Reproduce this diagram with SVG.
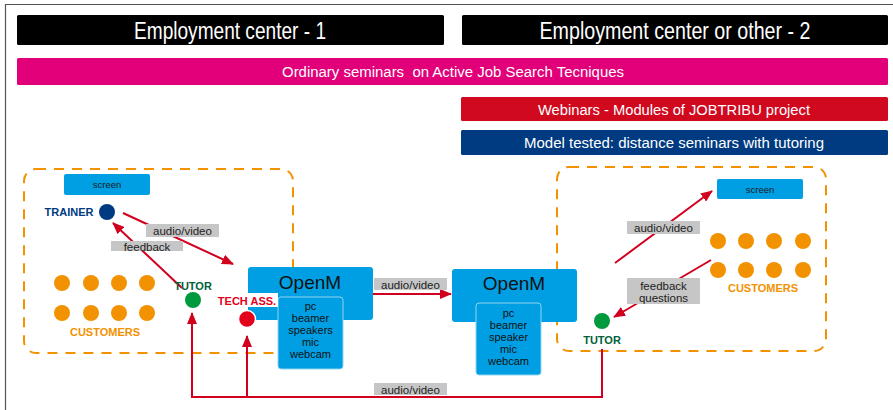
<svg xmlns="http://www.w3.org/2000/svg" width="893" height="410" viewBox="0 0 893 410">
<defs>
<style>
.hdr{font-family:"Liberation Sans",Arial,sans-serif;fill:#fff;text-anchor:middle}
.lbl{font-family:"Liberation Sans",Arial,sans-serif;font-size:11.5px;fill:#222;text-anchor:middle}
.sm{font-family:"Liberation Sans",Arial,sans-serif;font-size:9.5px;fill:#1a1a1a;text-anchor:middle}
.dev{font-family:"Liberation Sans",Arial,sans-serif;font-size:11px;fill:#111;text-anchor:middle}
.big{font-family:"Liberation Sans",Arial,sans-serif;font-size:19px;fill:#111;text-anchor:middle}
.role{font-family:"Liberation Sans",Arial,sans-serif;font-size:11px;font-weight:bold;text-anchor:middle}
.dash{fill:none;stroke:#f39200;stroke-width:2;stroke-dasharray:10 8}
.gbox{fill:#c6c6c6}
.blue{fill:#009fe3}
.inner{fill:#009fe3;stroke:#8fd3f2;stroke-width:1}
.cust{fill:#f39200}
.wire{fill:none;stroke:#d2001f;stroke-width:2}
</style>
<marker id="ah" markerWidth="12" markerHeight="10" refX="11" refY="5" orient="auto" markerUnits="userSpaceOnUse">
<path d="M0,0 L12,5 L0,10 Z" fill="#d2001f"/>
</marker>
</defs>
<rect x="0" y="0" width="893" height="410" fill="#fff"/>
<path d="M5.5,410 L5.5,4.5 L893,4.5" fill="none" stroke="#555" stroke-width="1.2"/>

<g id="header1"><rect x="17" y="15" width="427" height="30" rx="1.5" fill="#000"/><text class="hdr" x="230" y="39" font-size="23" textLength="192" lengthAdjust="spacingAndGlyphs">Employment center - 1</text></g>
<g id="header2"><rect x="462" y="15" width="426" height="30" rx="1.5" fill="#000"/><text class="hdr" x="675" y="39" font-size="23" textLength="271" lengthAdjust="spacingAndGlyphs">Employment center or other - 2</text></g>
<g id="ordinary"><rect x="17" y="58" width="871" height="27" rx="1.5" fill="#e2007a"/><text class="hdr" x="453" y="77" font-size="15.5" textLength="342" lengthAdjust="spacingAndGlyphs" xml:space="preserve">Ordinary seminars  on Active Job Search Tecniques</text></g>
<g id="webinars"><rect x="461" y="97" width="427" height="24" rx="1.5" fill="#d0091f"/><text class="hdr" x="674" y="114.5" font-size="15.5" textLength="272" lengthAdjust="spacingAndGlyphs">Webinars - Modules of JOBTRIBU project</text></g>
<g id="model"><rect x="461" y="130" width="427" height="25" rx="1.5" fill="#003a80"/><text class="hdr" x="674" y="148" font-size="15.5" textLength="300" lengthAdjust="spacingAndGlyphs">Model tested: distance seminars with tutoring</text></g>

<g id="room1"><rect class="dash" x="24" y="169" width="269" height="184" rx="12"/></g>
<g id="room2"><rect class="dash" x="557" y="167" width="269" height="184" rx="12"/></g>

<g id="connectors">
<line class="wire" x1="123" y1="213" x2="233" y2="264" marker-end="url(#ah)"/>
<line class="wire" x1="182" y1="288" x2="113" y2="223" marker-end="url(#ah)"/>
<line class="wire" x1="373" y1="294" x2="451" y2="294" marker-end="url(#ah)"/>
<line class="wire" x1="615" y1="263" x2="712" y2="191" marker-end="url(#ah)"/>
<line class="wire" x1="711" y1="260" x2="614" y2="317" marker-end="url(#ah)"/>
<polyline class="wire" points="602,349 602,397 192,397 192,313" marker-end="url(#ah)"/>
<line class="wire" x1="247" y1="397" x2="247" y2="336" marker-end="url(#ah)"/>
<g id="conn-labels">
<rect class="gbox" x="146" y="224" width="73" height="13"/><text class="lbl" x="182.5" y="234.5">audio/video</text>
<rect class="gbox" x="111" y="241" width="72" height="10"/><text class="lbl" x="147" y="250.5">feedback</text>
<rect class="gbox" x="374" y="278" width="73" height="12"/><text class="lbl" x="410.5" y="288.5">audio/video</text>
<rect class="gbox" x="374" y="383" width="73" height="12"/><text class="lbl" x="410.5" y="393.5">audio/video</text>
<rect class="gbox" x="627" y="221" width="73" height="13"/><text class="lbl" x="663.5" y="231.5">audio/video</text>
<rect class="gbox" x="627" y="278" width="73" height="26"/><text class="lbl" x="663.5" y="289.5">feedback</text><text class="lbl" x="663.5" y="301.5">questions</text>
</g>
</g>

<g id="screen1"><rect class="blue" x="64" y="174" width="86" height="21" rx="2"/><text class="sm" x="107" y="188">screen</text></g>
<g id="screen2"><rect class="blue" x="717" y="179" width="86" height="20" rx="2"/><text class="sm" x="760" y="192.5">screen</text></g>

<g id="trainer"><circle cx="107" cy="212" r="8" fill="#003a80"/><text class="role" x="69" y="215.5" fill="#003a80">TRAINER</text></g>

<g id="customers1">
<circle class="cust" cx="62" cy="283" r="8"/><circle class="cust" cx="91" cy="283" r="8"/><circle class="cust" cx="119" cy="283" r="8"/><circle class="cust" cx="147" cy="283" r="8"/>
<circle class="cust" cx="62" cy="313" r="8"/><circle class="cust" cx="91" cy="313" r="8"/><circle class="cust" cx="119" cy="313" r="8"/><circle class="cust" cx="147" cy="313" r="8"/>
<text class="role" x="105" y="335.5" fill="#f39200">CUSTOMERS</text>
</g>
<g id="tutor1"><circle cx="193" cy="300" r="8" fill="#009a3e"/><text class="role" x="193" y="289.5" fill="#00613a">TUTOR</text></g>

<g id="openm1">
<rect class="blue" x="248" y="267" width="125" height="53" rx="3"/>
<text class="big" x="310" y="289">OpenM</text>
<rect class="inner" x="278" y="297" width="65" height="72" rx="3"/>
<text class="dev" x="310.5" y="310">pc</text><text class="dev" x="310.5" y="322">beamer</text><text class="dev" x="310.5" y="334">speakers</text><text class="dev" x="310.5" y="346">mic</text><text class="dev" x="310.5" y="358">webcam</text>
</g>
<g id="techass"><rect x="216" y="293" width="62" height="14" fill="#fff"/><text class="role" x="247" y="304.5" fill="#e2001a">TECH ASS.</text><circle cx="247" cy="319" r="8.5" fill="#e2001a" stroke="#fff" stroke-width="1.5"/></g>

<g id="openm2">
<rect class="blue" x="452" y="269" width="125" height="53" rx="3"/>
<text class="big" x="514" y="290">OpenM</text>
<rect class="inner" x="476" y="303" width="65" height="72" rx="3"/>
<text class="dev" x="508.5" y="317">pc</text><text class="dev" x="508.5" y="329">beamer</text><text class="dev" x="508.5" y="341">speaker</text><text class="dev" x="508.5" y="353">mic</text><text class="dev" x="508.5" y="365">webcam</text>
</g>

<g id="customers2">
<circle class="cust" cx="718" cy="241" r="8"/><circle class="cust" cx="746" cy="241" r="8"/><circle class="cust" cx="774" cy="241" r="8"/><circle class="cust" cx="803" cy="241" r="8"/>
<circle class="cust" cx="718" cy="270" r="8"/><circle class="cust" cx="746" cy="270" r="8"/><circle class="cust" cx="774" cy="270" r="8"/><circle class="cust" cx="803" cy="270" r="8"/>
<text class="role" x="763" y="291.5" fill="#f39200">CUSTOMERS</text>
</g>
<g id="tutor2"><circle cx="602" cy="321" r="8" fill="#009a3e"/><text class="role" x="602" y="343.5" fill="#00613a">TUTOR</text></g>
</svg>
